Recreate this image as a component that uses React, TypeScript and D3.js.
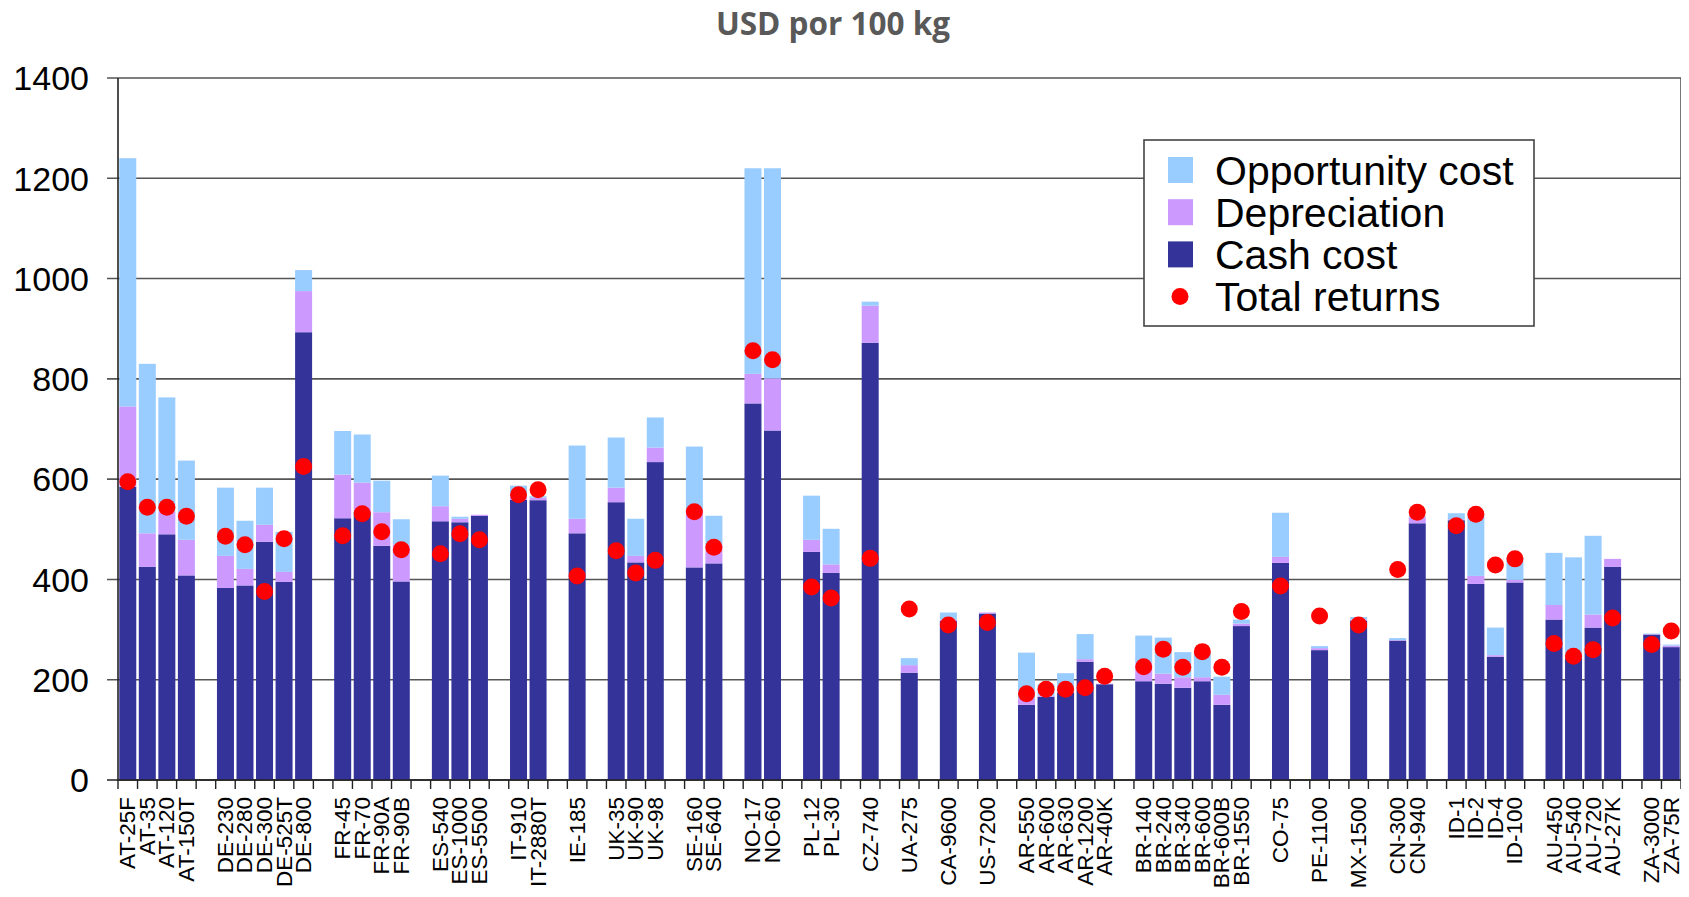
import React from 'react';
import * as d3 from 'd3';

// one entry per slot on the category axis; '' marks the blank spacer slots between countries
const categories = [
  'AT-25F', 'AT-35', 'AT-120', 'AT-150T', '',
  'DE-230', 'DE-280', 'DE-300', 'DE-525T', 'DE-800', '',
  'FR-45', 'FR-70', 'FR-90A', 'FR-90B', '',
  'ES-540', 'ES-1000', 'ES-5500', '',
  'IT-910', 'IT-2880T', '',
  'IE-185', '',
  'UK-35', 'UK-90', 'UK-98', '',
  'SE-160', 'SE-640', '',
  'NO-17', 'NO-60', '',
  'PL-12', 'PL-30', '',
  'CZ-740', '',
  'UA-275', '',
  'CA-9600', '',
  'US-7200', '',
  'AR-550', 'AR-600', 'AR-630', 'AR-1200', 'AR-40K', '',
  'BR-140', 'BR-240', 'BR-340', 'BR-600', 'BR-600B', 'BR-1550', '',
  'CO-75', '',
  'PE-1100', '',
  'MX-1500', '',
  'CN-300', 'CN-940', '',
  'ID-1', 'ID-2', 'ID-4', 'ID-100', '',
  'AU-450', 'AU-540', 'AU-720', 'AU-27K', '',
  'ZA-3000', 'ZA-75R',
];

const cashCost = [
  585, 425, 490, 408, null,
  383, 388, 475, 395, 893, null,
  522, 534, 467, 396, null,
  516, 514, 527, null,
  559, 558, null,
  492, null,
  554, 434, 634, null,
  424, 432, null,
  751, 697, null,
  455, 413, null,
  872, null,
  214, null,
  317, null,
  332, null,
  150, 166, 174, 236, 191, null,
  197, 192, 184, 197, 150, 307, null,
  433, null,
  259, null,
  318, null,
  278, 512, null,
  518, 391, 246, 394, null,
  320, 243, 304, 425, null,
  290, 265,
];

const depreciation = [
  160, 67, 45, 71, null,
  64, 33, 34, 20, 82, null,
  87, 59, 67, 74, null,
  30, 7, 2, null,
  5, 5, null,
  29, null,
  29, 13, 29, null,
  116, 38, null,
  59, 104, null,
  24, 17, null,
  74, null,
  15, null,
  3, null,
  2, null,
  13, 2, 2, 5, 1, null,
  37, 20, 21, 8, 20, 5, null,
  12, null,
  4, null,
  2, null,
  1, 12, null,
  2, 16, 3, 5, null,
  29, 2, 26, 16, null,
  1, 3,
];

const opportunityCost = [
  495, 338, 228, 158, null,
  136, 96, 74, 80, 42, null,
  87, 96, 63, 50, null,
  61, 4, 0, null,
  23, 3, null,
  146, null,
  100, 74, 60, null,
  125, 57, null,
  410, 419, null,
  88, 71, null,
  8, null,
  14, null,
  14, null,
  0, null,
  91, 23, 37, 50, 0, null,
  54, 72, 50, 48, 36, 8, null,
  88, null,
  4, null,
  5, null,
  4, 2, null,
  12, 120, 55, 46, null,
  104, 199, 157, 0, null,
  1, 2,
];

const totalReturns = [
  595, 544, 544, 526, null,
  486, 469, 376, 481, 625, null,
  487, 531, 495, 459, null,
  451, 491, 479, null,
  569, 579, null,
  407, null,
  457, 413, 438, null,
  535, 464, null,
  856, 838, null,
  385, 363, null,
  442, null,
  341, null,
  309, null,
  314, null,
  172, 181, 181, 184, 207, null,
  226, 261, 225, 256, 225, 336, null,
  387, null,
  327, null,
  309, null,
  420, 534, null,
  507, 530, 429, 441, null,
  272, 247, 260, 323, null,
  270, 297,
];

const yTicks = [0, 200, 400, 600, 800, 1000, 1200, 1400];

const seriesNames = ['Opportunity cost', 'Depreciation', 'Cash cost', 'Total returns'];
const COLORS = { cash: '#333399', dep: '#CC99FF', opp: '#99CCFF', ret: '#FF0000' };

const W = 1689;
const H = 897;
const left = 118;
const right = 1681;
const top = 78;
const bottom = 780;
const FONT = '"Liberation Sans", Arial, sans-serif';

export default function App() {
  const x = d3.scaleBand<number>()
    .domain(d3.range(categories.length))
    .range([left, right])
    .paddingInner(0.13)
    .paddingOuter(0.065);
  const step = x.step();
  const y = d3.scaleLinear().domain([0, 1400]).range([bottom, top]);

  const rows = categories.map((name, i) => ({
    i, name,
    cash: cashCost[i], dep: depreciation[i], opp: opportunityCost[i], ret: totalReturns[i],
  })).filter(d => d.name !== '');

  const stack = d3.stack<any>().keys(['cash', 'dep', 'opp'])(rows);
  const fills = [COLORS.cash, COLORS.dep, COLORS.opp];

  return (
    <svg width={W} height={H} style={{ display: 'block', margin: -8, background: '#fff' }}>
      <text x={833} y={35} textAnchor='middle' fontFamily='"Open Sans", sans-serif'
        fontWeight={700} fontSize={31.5} fill='#595959'>USD por 100 kg</text>

      {/* gridlines */}
      {yTicks.map(t => (
        <line key={t} x1={left - 11} x2={right} y1={y(t)} y2={y(t)}
          stroke={t === 0 ? '#222' : '#555'} strokeWidth={1.6} />
      ))}
      <line x1={right} x2={right} y1={top} y2={bottom} stroke='#555' strokeWidth={1.6} />

      {/* stacked bars */}
      {stack.map((layer, k) => (
        <g key={k} fill={fills[k]}>
          {layer.map(seg => (
            seg[1] - seg[0] > 0 ? (
              <rect key={seg.data.i} x={x(seg.data.i)} width={x.bandwidth()}
                y={y(seg[1])} height={y(seg[0]) - y(seg[1])} />
            ) : null
          ))}
        </g>
      ))}

      {/* total returns markers */}
      {rows.map(d => (
        <circle key={d.i} cx={(x(d.i) as number) + x.bandwidth() / 2} cy={y(d.ret as number)} r={8.5}
          fill={COLORS.ret} />
      ))}

      {/* axes */}
      <line x1={left} x2={left} y1={top} y2={bottom} stroke='#222' strokeWidth={1.6} />
      <line x1={left} x2={right} y1={bottom} y2={bottom} stroke='#222' strokeWidth={1.6} />
      {d3.range(categories.length + 1).map(i => (
        <line key={i} x1={left + i * step} x2={left + i * step} y1={bottom} y2={bottom + 9}
          stroke='#222' strokeWidth={1.4} />
      ))}
      {yTicks.map(t => (
        <text key={t} x={89} y={y(t)} dy='0.36em' textAnchor='end' fontFamily={FONT}
          fontSize={34} fill='#000'>{t}</text>
      ))}
      {rows.map(d => (
        <text key={d.i} textAnchor='end' dominantBaseline='central' fontFamily={FONT} fontSize={22.5}
          fill='#000'
          transform={`translate(${left + (d.i + 0.5) * step},797) rotate(-90)`}>{d.name}</text>
      ))}

      {/* legend */}
      <rect x={1144} y={140} width={390} height={186} fill='#fff' stroke='#444' strokeWidth={1.6} />
      {seriesNames.map((s, k) => {
        const cy = 170 + k * 42.2;
        return (
          <g key={s}>
            {k < 3 ? (
              <rect x={1168} y={cy - 13} width={25} height={26}
                fill={[COLORS.opp, COLORS.dep, COLORS.cash][k]} />
            ) : (
              <circle cx={1180} cy={cy} r={8.5} fill={COLORS.ret} />
            )}
            <text x={1215} y={cy} dy='0.36em' fontFamily={FONT} fontSize={41} fill='#000'>{s}</text>
          </g>
        );
      })}
    </svg>
  );
}
